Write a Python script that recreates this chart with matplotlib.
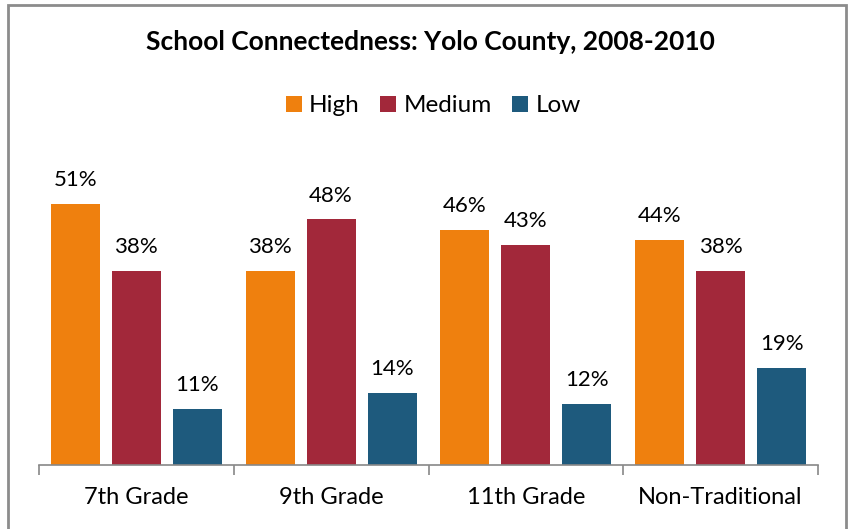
import matplotlib
matplotlib.use('Agg')
import matplotlib.pyplot as plt
from matplotlib.patches import Patch, Rectangle
import numpy as np

plt.rcParams['font.family'] = ['Lato', 'DejaVu Sans']

categories = ['7th Grade', '9th Grade', '11th Grade', 'Non-Traditional']
series_names = ['High', 'Medium', 'Low']
high = [51, 38, 46, 44]
medium = [38, 48, 43, 38]
low = [11, 14, 12, 19]
colors = ['#EF800E', '#A2283A', '#1E5A7D']

W, H = 848, 529
fig = plt.figure(figsize=(W / 100, H / 100), dpi=100)
ax = fig.add_axes([39 / W, (H - 465) / H, (818 - 39) / W, (465 - 158) / H])

x = np.arange(len(categories))
step = 0.313
width = 0.251
for i, (vals, c) in enumerate(zip([high, medium, low], colors)):
    pos = x + (i - 1) * step
    bars = ax.bar(pos, vals, width, color=c, label=series_names[i])
    for b, v in zip(bars, vals):
        ax.annotate(f'{v}%', (b.get_x() + b.get_width() / 2, v),
                    xytext=(0, 10), textcoords='offset points',
                    ha='center', va='bottom', fontsize=16, color='#000000')

ax.set_xlim(-0.5, len(categories) - 0.5)
ax.set_ylim(0, 60)
for s in ['top', 'right', 'left']:
    ax.spines[s].set_visible(False)
ax.spines['bottom'].set_color('#888888')
ax.spines['bottom'].set_linewidth(1.2)
ax.set_yticks([])
ax.set_xticks(np.arange(-0.5, len(categories)), minor=False)
ax.set_xticklabels([])
ax.tick_params(axis='x', which='major', length=7, color='#888888', width=1.2)
ax.set_xticks(x, minor=True)
ax.set_xticklabels(categories, minor=True, fontsize=17)
ax.tick_params(axis='x', which='minor', length=0, pad=16)

fig.text(0.508, (H - 42) / H, 'School Connectedness: Yolo County, 2008-2010',
         ha='center', va='center', fontsize=19, fontweight='bold')

handles = [Patch(facecolor=c, label=n) for c, n in zip(colors, series_names)]
fig.legend(handles=handles, loc='center', bbox_to_anchor=(0.511, (H - 106) / H),
           ncol=3, frameon=False, fontsize=17.5, handlelength=0.65, handleheight=0.65,
           handletextpad=0.3, columnspacing=0.85)

fig.patches.append(Rectangle((8 / W, -0.1), (846 - 8) / W, 1.1 - 5 / H,
                             transform=fig.transFigure, fill=False,
                             edgecolor='#8C8C8C', linewidth=2))

fig.savefig('out.png', dpi=100)
